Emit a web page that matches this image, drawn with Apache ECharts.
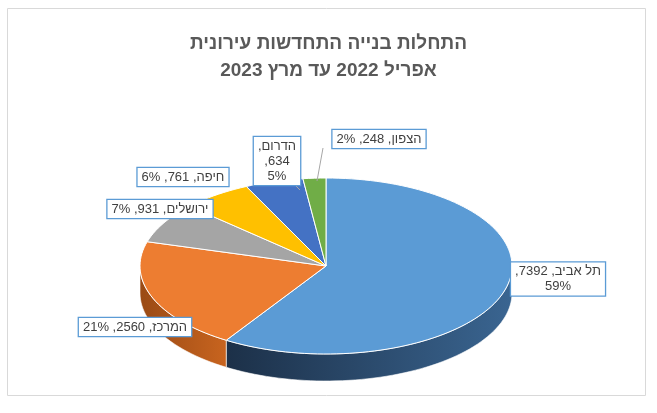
<!DOCTYPE html>
<html><head><meta charset="utf-8">
<script src="https://cdn.jsdelivr.net/npm/echarts@6/dist/echarts.min.js"></script>
<style>html,body{margin:0;padding:0;background:#fff}#c{width:657px;height:413px}</style>
</head><body>
<div id="c" dir="rtl"></div>
<script>
const categories = ['תל אביב','המרכז','ירושלים','חיפה','הדרום','הצפון'];
const values = [7392,2560,931,761,634,248];
const percents = ['59%','21%','7%','6%','5%','2%'];
const labelTexts = ['תל אביב, 7392,\n59%','המרכז, 2560, 21%','ירושלים, 931, 7%','חיפה, 761, 6%','הדרום,\n634,\n5%','הצפון, 248, 2%'];
const topColors = ['#5B9BD5','#ED7D31','#A5A5A5','#FFC000','#4472C4','#70AD47'];
const sideColors = [['#3A6591','#1C3048'],['#C8641F','#9A4A14'],['#7A7A7A','#5E5E5E'],['#C79500','#A07800'],['#2F528F','#233E6C'],['#507E32','#3D6126']];
// label layout (box centres) and leader lines
const labelPos = [[558,279],[135,327],[160,209],[183,177],[277,161],[379,139]];
const leaders = [null,null,null,null,[[296,186],[300,190]],[[317,181],[323,148]]];

const chart = echarts.init(document.getElementById('c'));
const total = values.reduce((a,b)=>a+b,0);
const cum = [0]; values.forEach((v,i)=>cum.push(cum[i]+v));
const cx=326, cy=266, rx=186, ry=88, depth=27;
function pt(deg, dy){const r=deg*Math.PI/180;return [cx+rx*Math.sin(r), cy-ry*Math.cos(r)+(dy||0)];}
function arc(a0,a1,dy){const pts=[];const n=Math.max(2,Math.ceil((a1-a0)/2));for(let k=0;k<=n;k++)pts.push(pt(a0+(a1-a0)*k/n,dy));return pts;}

chart.setOption({
  animation:false,
  title:{text:'התחלות בנייה התחדשות עירונית\nאפריל 2022 עד מרץ 2023',left:'center',top:25,
    textStyle:{fontFamily:'Liberation Sans',fontSize:19,fontWeight:'bold',color:'#595959',lineHeight:27}},
  graphic:[{type:'rect',shape:{x:7.5,y:8.5,width:638,height:387},style:{fill:'none',stroke:'#D9D9D9',lineWidth:1},z:-10}],
  xAxis:{show:false,min:0,max:1},yAxis:{show:false,min:0,max:1},
  grid:{left:0,right:0,top:0,bottom:0},
  series:[{type:'custom',coordinateSystem:'none',data:values.map((v,i)=>[i,v]),
    renderItem:function(params,api){
      const i=params.dataIndex;
      const a0=cum[i]/total*360, a1=cum[i+1]/total*360;
      const children=[];
      const s0=Math.max(a0,90), s1=Math.min(a1,270);
      if(s0<s1){
        const top=arc(s0,s1,0), bot=arc(s0,s1,depth).reverse();
        const p0=pt(s0),p1=pt(s1);
        children.push({type:'polygon',shape:{points:top.concat(bot)},
          style:{fill:new echarts.graphic.LinearGradient(p1[0]<p0[0]?1:0,0,p1[0]<p0[0]?0:1,0,[{offset:0,color:sideColors[i][0]},{offset:1,color:sideColors[i][1]}]),stroke:'#fff',lineWidth:0.6}});
      }
      children.push({type:'polygon',shape:{points:[[cx,cy]].concat(arc(a0,a1,0))},style:{fill:topColors[i],stroke:'#fff',lineWidth:1}});
      if(leaders[i])children.push({type:'polyline',shape:{points:leaders[i]},style:{stroke:'#A6A6A6',lineWidth:1,fill:'none'}});
      const lp=labelPos[i];
      children.push({type:'text',x:lp[0],y:lp[1],z2:10,style:{text:labelTexts[i],align:'center',verticalAlign:'middle',
        font:'13px "Liberation Sans"',fill:'#404040',backgroundColor:'#fff',borderColor:'#5B9BD5',borderWidth:1.3,
        padding:[2,4,1,4],lineHeight:15}});
      return {type:'group',children:children};
    }}]
});
</script></body></html>
